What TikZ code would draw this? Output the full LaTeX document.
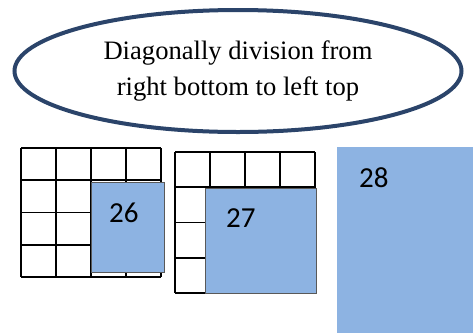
\documentclass[tikz,border=0pt]{standalone}
\usepackage{fontspec}
\setmainfont{Liberation Serif}
\newfontfamily\numfont{Carlito}
\newfontfamily\ovalfont{Liberation Serif}
\usepackage{xcolor}
\usepackage{tikz}
\usetikzlibrary{positioning, shapes.geometric}

\definecolor{ovalblue}{HTML}{2B446A}
\definecolor{cellblue}{HTML}{8DB3E2}

\tikzset{
  oval/.style={ellipse, draw=ovalblue, line width=4pt, minimum width=447pt,
    minimum height=122pt, inner sep=0pt, align=center,
    font=\ovalfont\fontsize{26.6}{36}\selectfont},
  gridline/.style={black, line width=1.8pt},
  cellbox/.style={fill=cellblue, draw=black!65, line width=1.2pt, inner sep=0pt,
    anchor=north west},
  numlabel/.style={font=\numfont\fontsize{29}{30}\selectfont, anchor=base west,
    inner sep=0pt}
}

\begin{document}
\begin{tikzpicture}[x=1pt, y=-1pt]
  \useasboundingbox (0,0) rectangle (473,333);

  % title oval
  \node[oval] (title) at (238,71) {Diagonally division from\\right bottom to left top};

  % first grid, 4 x 4
  \foreach \c in {0,1,2,3,4} {
    \draw[gridline] (21+35*\c,148) -- (21+35*\c,277);
  }
  \foreach \r in {0,1,2,3,4} {
    \draw[gridline] (21,148+32.25*\r) -- (161,148+32.25*\r);
  }
  \node[cellbox, minimum width=73pt, minimum height=90pt] (box26) at (91,182) {};
  \node[numlabel] (n26) at (109,222) {26};

  % second grid, 4 x 4
  \foreach \c in {0,1,2,3,4} {
    \draw[gridline] (175+35*\c,152) -- (175+35*\c,293);
  }
  \foreach \r in {0,1,2,3,4} {
    \draw[gridline] (175,152+35.25*\r) -- (315,152+35.25*\r);
  }
  \node[cellbox, minimum width=111pt, minimum height=105pt] (box27) at (205,188) {};
  \node[numlabel] (n27) at (226,227) {27};

  % last one fills the corner
  \fill[cellblue] (337,147) rectangle (473,333);
  \node[numlabel] (n28) at (359,187) {28};
\end{tikzpicture}
\end{document}
